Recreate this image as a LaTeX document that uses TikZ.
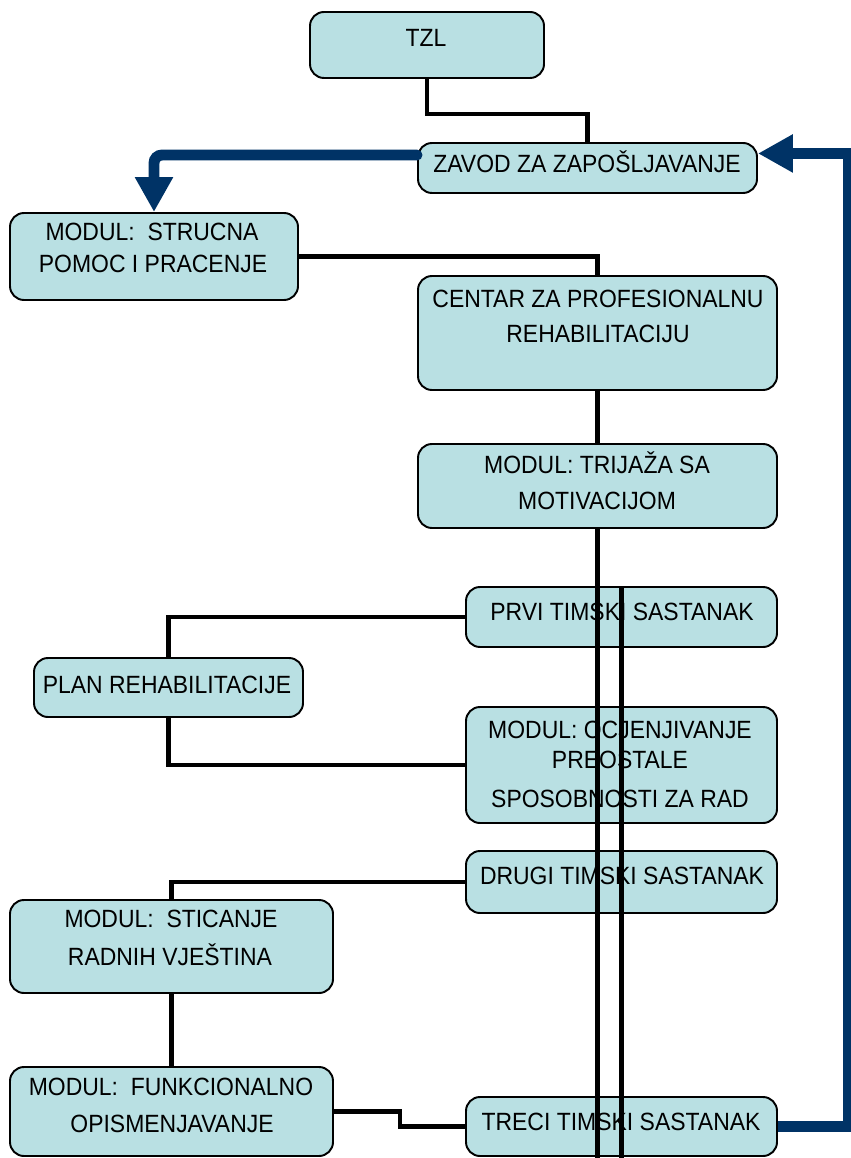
\documentclass[tikz,border=0pt]{standalone}
\usepackage{fontspec}
\setmainfont{Liberation Sans}[FakeStretch=0.92]
\usetikzlibrary{arrows.meta,calc,backgrounds}
\definecolor{boxfill}{RGB}{185,224,227}
\definecolor{navy}{RGB}{0,51,102}
\begin{document}
\begin{tikzpicture}[x=0.02cm,y=-0.02cm,
  box/.style 2 args={draw=black, line width=1.1pt, fill=boxfill, rounded corners=0.28cm,
    minimum width=#1*0.02cm, minimum height=#2*0.02cm, inner sep=0pt},
  lbl/.style={anchor=base, font=\fontsize{14.2}{17}\selectfont, inner sep=0pt},
  link/.style={draw=black, line width=2.8pt, line join=miter},
  flow/.style={draw=navy, line width=6.2pt, line join=miter,
    -{Triangle[length=0.7cm,width=0.72cm]}}]
\useasboundingbox (0,0) rectangle (850,1158);

% boxes
\node[box={234}{66}]  (tzl)      at (427,45) {};
\node[box={339}{50}]  (zavod)    at (587.5,168) {};
\node[box={288}{87}]  (strucna)  at (154,256.5) {};
\node[box={359}{114}] (centar)   at (597.5,333) {};
\node[box={359}{84}]  (trijaza)  at (597.5,486) {};
\node[box={311}{60}]  (prvi)     at (621.5,617) {};
\node[box={269}{59}]  (plan)     at (168.5,687.5) {};
\node[box={311}{116}] (ocj)      at (621.5,765) {};
\node[box={311}{62}]  (drugi)    at (621.5,882) {};
\node[box={323}{93}]  (sticanje) at (171.5,946.5) {};
\node[box={323}{89}]  (funk)     at (171.5,1111.5) {};
\node[box={311}{59}]  (treci)    at (621.5,1126.5) {};

% labels
\node[lbl] (t-tzl)   at (426,47)    {TZL};
\node[lbl] (t-zavod) at (587,173)   {ZAVOD ZA ZAPOŠLJAVANJE};
\node[lbl] (t-str1)  at (152,241)   {MODUL:~~STRUCNA};
\node[lbl] (t-str2)  at (153,273)   {POMOC I PRACENJE};
\node[lbl] (t-cen1)  at (598,308)   {CENTAR ZA PROFESIONALNU};
\node[lbl] (t-cen2)  at (598,342)   {REHABILITACIJU};
\node[lbl] (t-tri1)  at (597,473)   {MODUL: TRIJAŽA SA};
\node[lbl] (t-tri2)  at (597,509)   {MOTIVACIJOM};
\node[lbl] (t-prvi)  at (622,620)   {PRVI TIMSKI SASTANAK};
\node[lbl] (t-plan)  at (167,693)   {PLAN REHABILITACIJE};
\node[lbl] (t-ocj1)  at (620,738)   {MODUL: OCJENJIVANJE};
\node[lbl] (t-ocj2)  at (620,768)   {PREOSTALE};
\node[lbl] (t-ocj3)  at (620,807)   {SPOSOBNOSTI ZA RAD};
\node[lbl] (t-drugi) at (622,884)   {DRUGI TIMSKI SASTANAK};
\node[lbl] (t-sti1)  at (171,927)   {MODUL:~~STICANJE};
\node[lbl] (t-sti2)  at (170,965)   {RADNIH VJEŠTINA};
\node[lbl] (t-fun1)  at (171,1095)  {MODUL:~~FUNKCIONALNO};
\node[lbl] (t-fun2)  at (172,1132)  {OPISMENJAVANJE};
\node[lbl] (t-treci) at (621,1130)  {TRECI TIMSKI SASTANAK};

% helper points
\coordinate (zl)  at ($(zavod.north west)!0.25!(zavod.south west)$);
\coordinate (zr)  at ($(zavod.north east)!0.22!(zavod.south east)$);
\coordinate (rt)  at (848,1126.5);
\coordinate (jog) at (400,1120);
\coordinate (b1)  at (597.5,1158);
\coordinate (b2)  at (621.5,1158);

% link hidden behind the plan box
\begin{scope}[on background layer]
  \draw[link] (prvi.west) -| (plan.center) |- (ocj.west);
\end{scope}

% black links
\draw[link] (tzl.south) -- ++(0,35) -| (zavod.north);
\draw[link] (strucna.east) -| (centar.north);
\draw[link] (centar.south) -- (trijaza.north);
\draw[link] (drugi.west) -| (sticanje.north);
\draw[link] (sticanje.south) -- (funk.north);
\draw[link] (funk.east) -| (jog) |- (treci.west);

% long verticals crossing the team-meeting boxes
\draw[link] (trijaza.south) -- (b1);
\draw[link] (prvi.north) -- (b2);

% blue flow arrows
\draw[flow, line cap=round, rounded corners=0.16cm] (zl) -| (strucna.north);
\draw[flow] (treci.east) -- (rt) |- (zr);
\end{tikzpicture}
\end{document}
